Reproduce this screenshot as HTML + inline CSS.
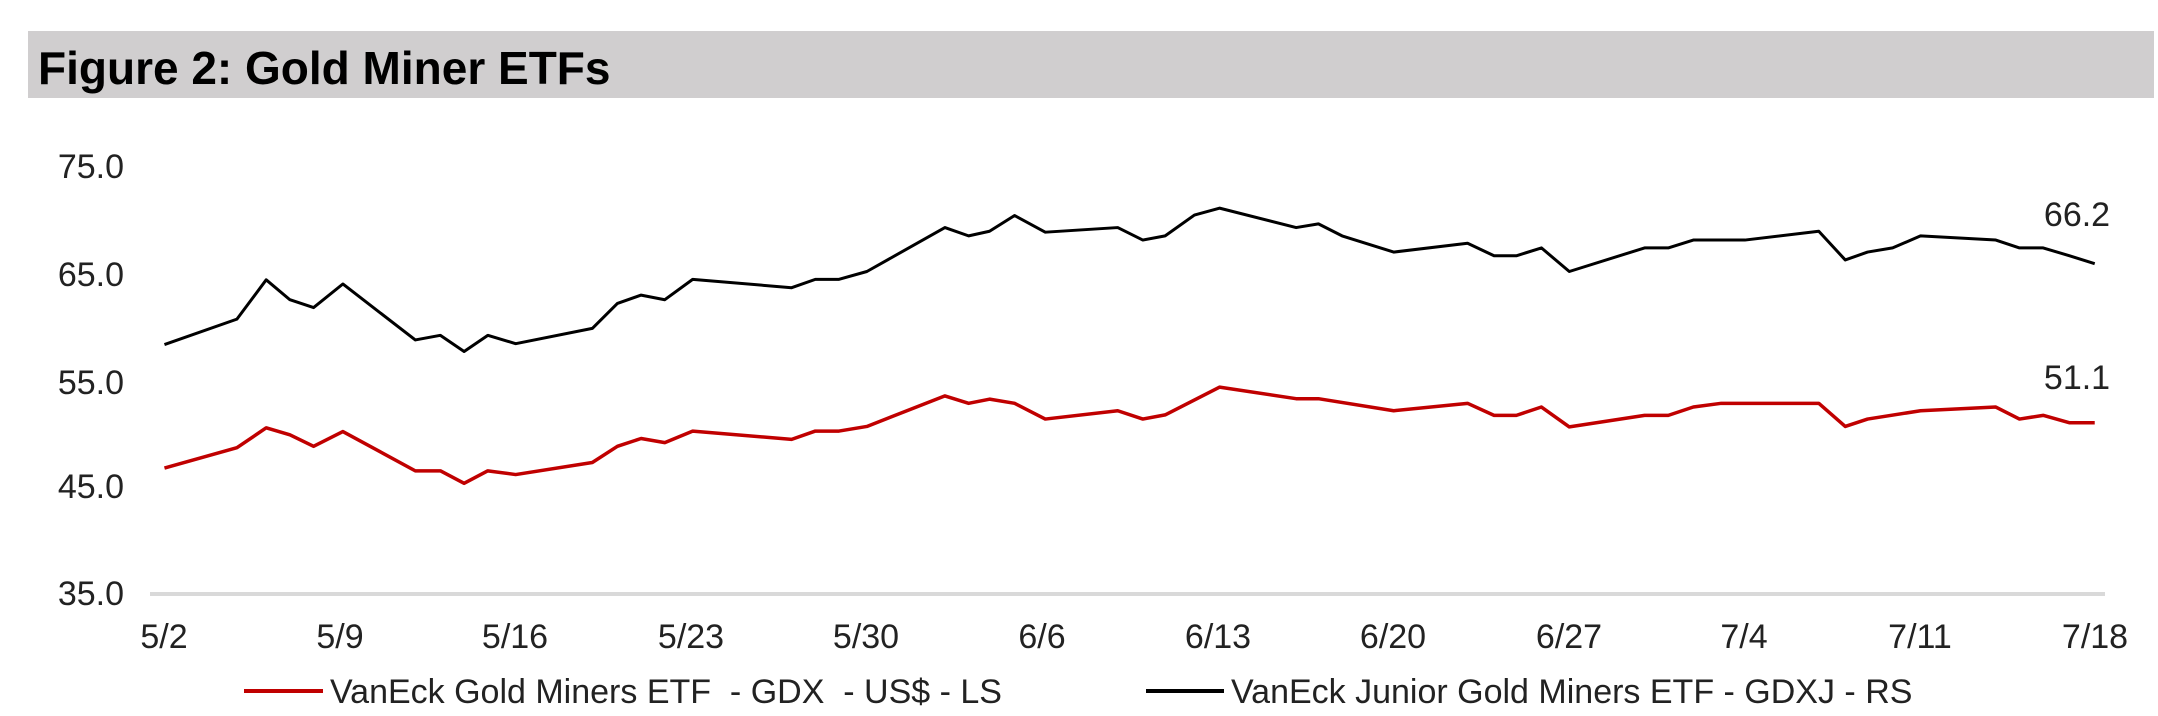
<!DOCTYPE html>
<html><head><meta charset="utf-8"><style>
html,body{margin:0;padding:0;background:#fff;}
svg{display:block;font-family:"Liberation Sans",Arial,sans-serif;}
</style></head><body>
<svg width="2158" height="716" viewBox="0 0 2158 716" xmlns="http://www.w3.org/2000/svg">
<rect x="28" y="31" width="2126" height="67" fill="#d0cecf"/>
<text x="38" y="84" font-size="46" font-weight="bold" fill="#000">Figure 2: Gold Miner ETFs</text>
<g font-size="34" fill="#222" text-anchor="end">
<text x="124" y="178">75.0</text>
<text x="124" y="286">65.0</text>
<text x="124" y="394">55.0</text>
<text x="124" y="498">45.0</text>
<text x="124" y="605">35.0</text>
</g>
<line x1="150" y1="594" x2="2105" y2="594" stroke="#d9d9d9" stroke-width="4"/>
<g font-size="34" fill="#222" text-anchor="middle">
<text x="164" y="648">5/2</text>
<text x="340" y="648">5/9</text>
<text x="515" y="648">5/16</text>
<text x="691" y="648">5/23</text>
<text x="866" y="648">5/30</text>
<text x="1042" y="648">6/6</text>
<text x="1218" y="648">6/13</text>
<text x="1393" y="648">6/20</text>
<text x="1569" y="648">6/27</text>
<text x="1744" y="648">7/4</text>
<text x="1920" y="648">7/11</text>
<text x="2095" y="648">7/18</text>
</g>
<g transform="scale(1.3937,0.46253)" fill="none" stroke-linejoin="round">
<polyline vector-effect="non-scaling-stroke" stroke="#000" stroke-width="3" points="118,745 170,690 191,605 208,648 225,665 246,614 298,735 316,725 333,760 350,725 370,743 425,710 443,656 460,638 477,648 497,604 568,622 585,604 602,604 622,587 678,492 695,510 710,500 728,466 750,502 802,492 820,519 836,510 857,465 875,450 930,492 946,484 963,510 1000,545 1053,526 1072,553 1088,553 1106,536 1126,587 1180,536 1197,536 1215,519 1252,519 1305,500 1324,562 1340,545 1358,536 1378,510 1432,519 1449,536 1466,536 1485,553 1503,570"/>
<polyline vector-effect="non-scaling-stroke" stroke="#c00000" stroke-width="3.5" points="118,1012 170,968 191,925 208,940 225,965 246,933 298,1018 316,1018 333,1045 350,1018 370,1026 425,1000 443,965 460,948 477,957 497,932 568,950 585,932 602,932 622,922 678,856 695,872 710,863 728,872 750,906 802,888 820,906 836,897 875,837 930,862 946,862 1000,888 1053,872 1072,898 1088,898 1106,880 1126,923 1180,898 1197,898 1215,880 1235,872 1305,872 1324,922 1340,906 1378,888 1432,880 1449,906 1466,898 1485,914 1503,914"/>
</g>
<g font-size="34" fill="#222" text-anchor="middle">
<text x="2077" y="226">66.2</text>
<text x="2077" y="389">51.1</text>
</g>
<line x1="244" y1="691" x2="323" y2="691" stroke="#c00000" stroke-width="4"/>
<text x="330" y="703" font-size="34" fill="#222" xml:space="preserve" style="white-space:pre">VanEck Gold Miners ETF  - GDX  - US$ - LS</text>
<line x1="1146" y1="691" x2="1224" y2="691" stroke="#000" stroke-width="4"/>
<text x="1231" y="703" font-size="34" fill="#222">VanEck Junior Gold Miners ETF - GDXJ - RS</text>
</svg>
</body></html>
